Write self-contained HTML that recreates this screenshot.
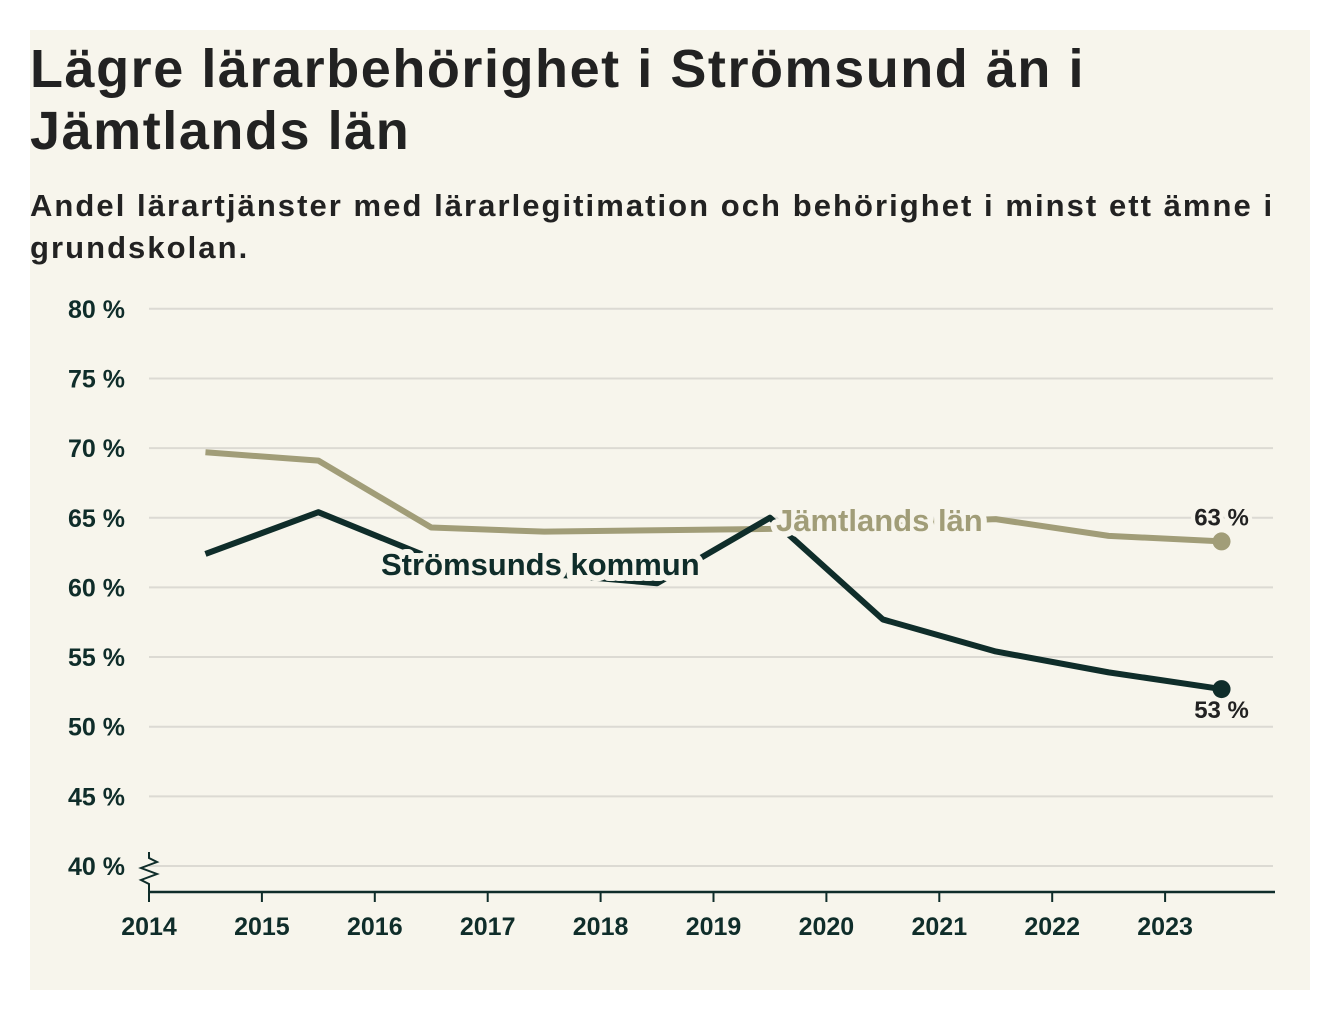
<!DOCTYPE html>
<html><head><meta charset="utf-8">
<style>
body{margin:0;background:#fff;width:1340px;height:1020px;overflow:hidden;font-family:"Liberation Sans","DejaVu Sans",sans-serif}
.card{position:absolute;left:30px;top:30px;width:1280px;height:960px;background:#f7f5ec}
h1{position:absolute;left:0;top:8px;margin:0;font-size:54px;letter-spacing:1.55px;line-height:62px;font-weight:bold;color:#222;white-space:nowrap}
h2{position:absolute;left:0;top:155px;margin:0;font-size:31px;letter-spacing:2.05px;line-height:42px;font-weight:bold;color:#222;white-space:nowrap}
svg{position:absolute;left:0;top:0}
</style></head><body>
<div class="card">
<h1>Lägre lärarbehörighet i Strömsund än i<br>Jämtlands län</h1>
<h2>Andel lärartjänster med lärarlegitimation och behörighet i minst ett ämne i<br>grundskolan.</h2>
</div>
<svg id="chart" width="1340" height="1020"></svg>
<script>
const years=[2014.5,2015.5,2016.5,2017.5,2018.5,2019.5,2020.5,2021.5,2022.5,2023.5];
const jamtland=[69.7,69.1,64.3,64.0,64.1,64.2,64.6,64.9,63.7,63.3];
const stromsund=[62.4,65.4,62.1,61.0,60.3,65.0,57.7,55.4,53.9,52.7];
const yTicks=[40,45,50,55,60,65,70,75,80];
const xTicks=[2014,2015,2016,2017,2018,2019,2020,2021,2022,2023];
const X=v=>149+(v-2014)*112.9;
const Y=v=>866-(v-40)*13.93;
const svg=document.getElementById('chart');
const NS='http://www.w3.org/2000/svg';
function mk(t,a){const e=document.createElementNS(NS,t);for(const k in a)e.setAttribute(k,a[k]);svg.appendChild(e);return e;}
yTicks.forEach(v=>{
 const l=mk('line',{x1:149,x2:1273,y1:Y(v),y2:Y(v),stroke:'#dcdad3','stroke-width':2});
 
 
 const t=mk('text',{x:125,y:Y(v)+9,'text-anchor':'end','font-size':25,'font-weight':'bold',fill:'#0f2d2a'});
 t.textContent=v+' %';
 
 
});
const ax=mk('line',{x1:149,x2:1275,y1:892,y2:892,stroke:'#0f2d2a','stroke-width':2.5});


const br=mk('polyline',{points:'149,852 149,858 157,862 141,868 157,874 141,880 149,884 149,892',fill:'none',stroke:'#0f2d2a','stroke-width':2});


xTicks.forEach(v=>{
 const l=mk('line',{x1:X(v),x2:X(v),y1:892,y2:902,stroke:'#0f2d2a','stroke-width':2});
 
 
 const t=mk('text',{x:X(v),y:935,'text-anchor':'middle','font-size':25,'font-weight':'bold',fill:'#0f2d2a'});
 t.textContent=v;
 
 
});
function series(vals,color,name){
 const p=mk('polyline',{points:vals.map((v,i)=>X(years[i])+','+Y(v)).join(' '),fill:'none',stroke:color,'stroke-width':6,'stroke-linejoin':'round'});
 
 
 const n=vals.length-1;
 const c=mk('circle',{cx:X(years[n]),cy:Y(vals[n]),r:9,fill:color});
 
 
}
series(jamtland,'#a19d78','jamtland');
series(stromsund,'#0f2d2a','stromsund');
function label(txt,x,y,color,name){
 const t=mk('text',{x:x,y:y,'font-size':31,'font-weight':'bold',fill:color,stroke:'#f7f5ec','stroke-width':12,'paint-order':'stroke','stroke-linejoin':'round'});
 t.textContent=txt;
 
 
}
label('Strömsunds kommun',381,575,'#0f2d2a','stromsund-label');
label('Jämtlands län',776,531,'#a19d78','jamtland-label');
const n=years.length-1;
const e1=mk('text',{x:X(years[n]),y:Y(jamtland[n])-16,'text-anchor':'middle','font-size':24,'font-weight':'bold',fill:'#222',stroke:'#f7f5ec','stroke-width':8,'paint-order':'stroke'});
e1.textContent=Math.round(jamtland[n])+' %';


const e2=mk('text',{x:X(years[n]),y:Y(stromsund[n])+29,'text-anchor':'middle','font-size':24,'font-weight':'bold',fill:'#222'});
e2.textContent=Math.round(stromsund[n])+' %';


</script>
</body></html>
